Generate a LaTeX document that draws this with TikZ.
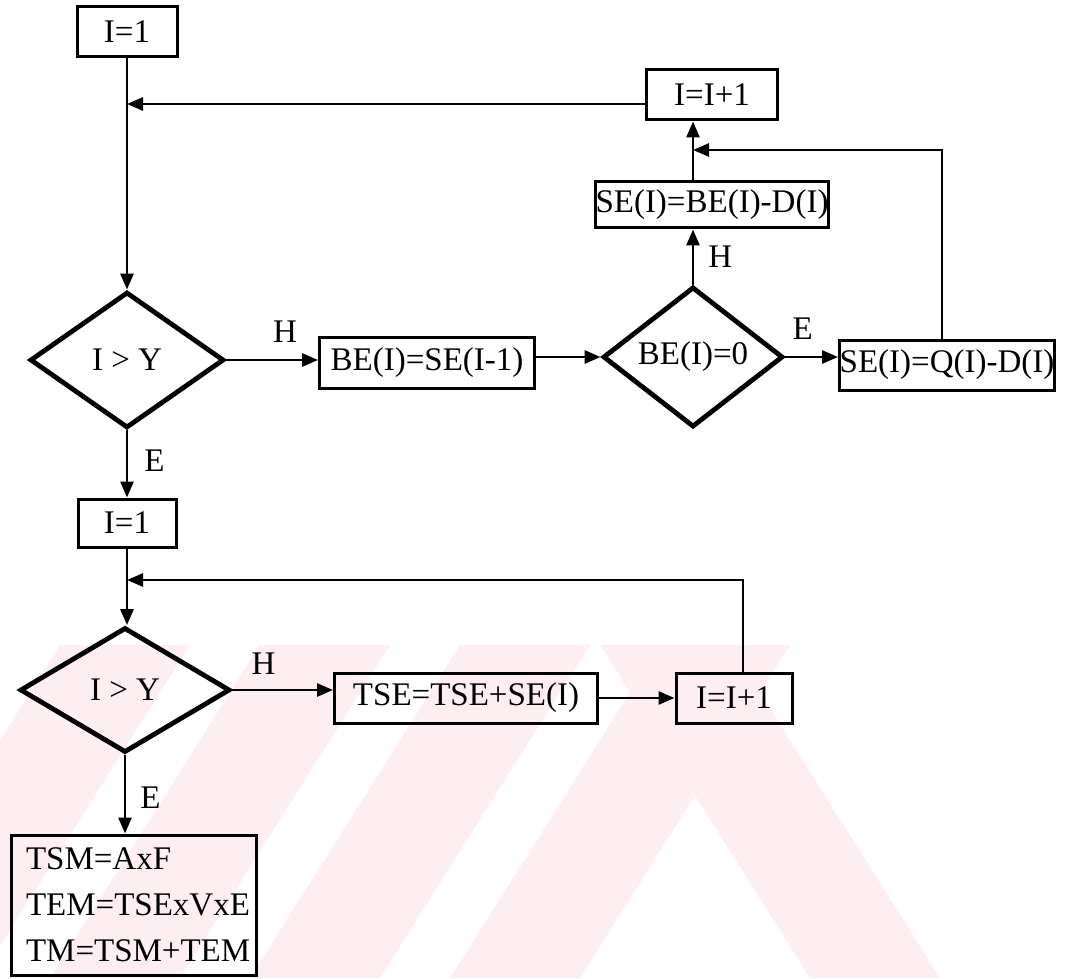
\documentclass[tikz,border=0pt]{standalone}
\usepackage{fontspec}
\setmainfont{Liberation Serif}
\usepackage{tikz}
\usetikzlibrary{arrows.meta,positioning,calc,shapes.geometric}
\definecolor{wmpink}{HTML}{FDEEF1}

\tikzset{
  box/.style={draw, line width=1.5pt, inner sep=0pt, font=\fontsize{16.5}{19}\selectfont},
  decision/.style={draw, diamond, line width=2.4pt, inner sep=0pt, font=\fontsize{16.5}{19}\selectfont},
  flow/.style={line width=1.4pt, -{Triangle[length=8pt,width=6.5pt]}},
  lbl/.style={font=\fontsize{16.5}{19}\selectfont, inner sep=2pt}
}

\begin{document}
\begin{tikzpicture}[x=0.5pt,y=-0.5pt]
\useasboundingbox (0,0) rectangle (1068,978);
% faint watermark of the scan
\begin{scope}
\clip (0,645) rectangle (1068,978);
\foreach \xb in {-150,50,250,450}
  \fill[wmpink] (\xb,978) -- ++(130,0) -- ++(210,-333) -- ++(-130,0) -- cycle;
\fill[wmpink] (600,645) -- (730,645) -- (940,978) -- (810,978) -- cycle;
\end{scope}

% first loop
\node[box, minimum width=50pt, minimum height=25pt] (ione) at (127,32) {I=1};
\node[box, minimum width=65.5pt, minimum height=25pt] (iinc) at (712,95) {I=I+1};
\node[box, minimum width=115.5pt, minimum height=23pt] (seb) at (712,205) {SE(I)=BE(I)-D(I)};
\node[decision, minimum width=90pt, minimum height=49pt] (dbe) at (693,357) {BE(I)=0};
\node[box, minimum width=107.5pt, minimum height=25pt] (seq) at (947,365) {SE(I)=Q(I)-D(I)};
\node[decision, minimum width=97pt, minimum height=68pt] (dy) at (127,360) {I > Y};
\node[box, minimum width=107.5pt, minimum height=25.5pt] (beset) at (427,363) {BE(I)=SE(I-1)};
\coordinate (jone) at (127,104);
\coordinate (jtwo) at (693,150);

% second loop
\node[box, minimum width=49pt, minimum height=24pt] (ionetwo) at (127,523) {I=1};
\node[decision, minimum width=105pt, minimum height=62.5pt] (dytwo) at (125,690) {I > Y};
\node[box, minimum width=131.5pt, minimum height=25pt] (tse) at (466,698) {TSE=TSE+SE(I)};
\node[box, minimum width=58pt, minimum height=25pt] (iinctwo) at (734,698) {I=I+1};
\node[box, minimum width=122.5pt, minimum height=70pt, inner xsep=7pt, text width=108pt, align=left,
      font=\fontsize{16.5}{23}\selectfont] (tot) at (134,905) {TSM=AxF\\TEM=TSExVxE\\TM=TSM+TEM};
\coordinate (jthree) at (127,580);

% connectors
\draw[flow] (ione) -- (dy);
\draw[flow] ([yshift=-4.5pt]iinc.west) -- (jone);
\draw[flow] (dy.east) -- node[lbl, above=6pt, pos=0.64] {H} (dy.east -| beset.west);
\draw[flow] (beset.east |- dbe.west) -- (dbe.west);
\draw[flow] (dbe.east) -- node[lbl, above=6pt, pos=0.33] {E} (dbe.east -| seq.west);
\draw[flow] (dbe.north) -- node[lbl, right=5pt] {H} (dbe.north |- seb.south);
\draw[flow] (seb.north -| jtwo) -- (iinc.south -| jtwo);
\draw[flow] ([xshift=-2.5pt]seq.north) |- (jtwo);
\draw[flow] (dy.south) -- node[lbl, right=6pt, pos=0.45] {E} (ionetwo.north);
\draw[flow] (ionetwo.south) -- (ionetwo.south |- dytwo.north);
\draw[flow] ([xshift=4.5pt]iinctwo.north) |- (jthree);
\draw[flow] (dytwo.east) -- node[lbl, above=5pt, pos=0.31] {H} (dytwo.east -| tse.west);
\draw[flow] (tse.east) -- (iinctwo.west);
\draw[flow] (dytwo.south) -- node[lbl, right=5pt, pos=0.54] {E} (dytwo.south |- tot.north);
\end{tikzpicture}
\end{document}
